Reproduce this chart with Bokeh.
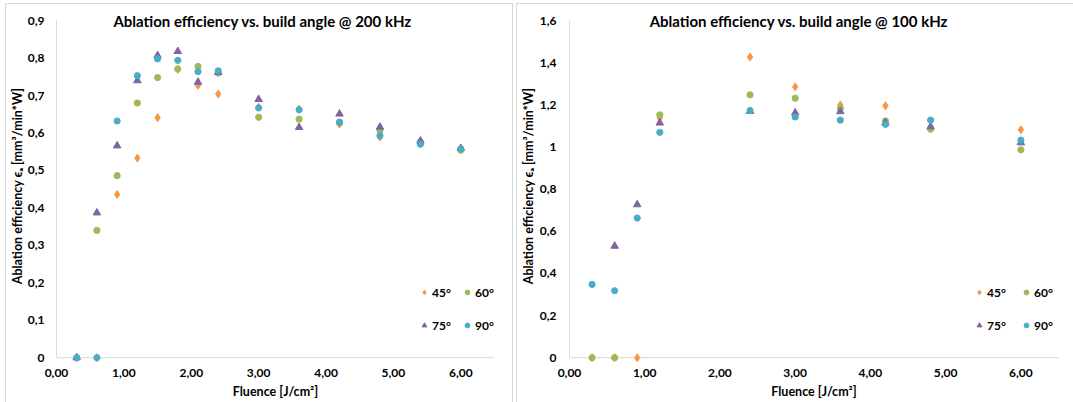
from bokeh.plotting import figure
from bokeh.layouts import row
from bokeh.models import (Label, Legend, LegendItem, FixedTicker, CustomJSTickFormatter,
                          Span, Range1d)
from bokeh.embed import file_html
from bokeh.resources import INLINE

nan = float("nan")

# ---------------- data ----------------
series_names = ["45°", "60°", "75°", "90°"]

titles = ["Ablation efficiency vs. build angle @ 200 kHz",
          "Ablation efficiency vs. build angle @ 100 kHz"]
x_label = "Fluence [J/cm²]"
y_label = "Ablation efficiency ϵₐ [mm³/min*W]"

x_ticks = [0, 1, 2, 3, 4, 5, 6]
y_ticks_200 = [0, 0.1, 0.2, 0.3, 0.4, 0.5, 0.6, 0.7, 0.8, 0.9]
y_ticks_100 = [0, 0.2, 0.4, 0.6, 0.8, 1.0, 1.2, 1.4, 1.6]

fluence_200 = [0.3, 0.6, 0.9, 1.2, 1.5, 1.8, 2.1, 2.4, 3.0, 3.6, 4.2, 4.8, 5.4, 6.0]
eff_200_45 = [0, 0, 0.436, 0.533, 0.641, 0.770, 0.727, 0.704, 0.669, 0.664, 0.624, 0.589, 0.578, 0.556]
eff_200_60 = [0, 0.340, 0.486, 0.680, 0.748, 0.771, 0.778, 0.760, 0.642, 0.637, 0.627, 0.607, 0.576, 0.554]
eff_200_75 = [0, 0.387, 0.566, 0.740, 0.807, 0.818, 0.736, 0.762, 0.690, 0.615, 0.651, 0.616, 0.579, 0.559]
eff_200_90 = [0, 0, 0.632, 0.753, 0.798, 0.794, 0.764, 0.766, 0.667, 0.662, 0.629, 0.593, 0.570, 0.558]

fluence_100 = [0.3, 0.6, 0.9, 1.2, 2.4, 3.0, 3.6, 4.2, 4.8, 6.0]
eff_100_45 = [0, 0, 0, 1.138, 1.428, 1.286, 1.200, 1.196, 1.090, 1.082]
eff_100_60 = [0, 0, nan, 1.153, 1.248, 1.232, 1.184, 1.124, 1.085, 0.987]
eff_100_75 = [nan, 0.530, 0.727, 1.115, 1.170, 1.163, 1.169, 1.116, 1.097, 1.021]
eff_100_90 = [0.348, 0.318, 0.663, 1.070, 1.173, 1.143, 1.128, 1.108, 1.128, 1.033]

# ---------------- style ----------------
FONT = "Lato"
TEXT = "#000000"
GREY = "#D9D9D9"
colors = ["#F79646", "#9BBB59", "#8064A2", "#4BACC6"]
markers = ["diamond", "circle", "triangle", "circle"]
sizes = [8, 6.2, 7.5, 6.2]

Y_FMT = "const v = Math.round(tick * 10) / 10; return v.toString().replace('.', ',');"
X_FMT = "return tick.toFixed(2).replace('.', ',');"


def make_panel(title, xs, ys_list, y_top, y_rng, y_ticks, width, b_left, b_right,
               y_std, y_label_std, title_x, legend_x, legend_spacing, margin):
    p = figure(width=width, height=398, x_range=Range1d(0, 6.5), y_range=Range1d(*y_rng),
               output_backend="svg", toolbar_location=None, title=None,
               min_border_left=b_left, min_border_right=b_right,
               min_border_top=4, min_border_bottom=39)
    p.margin = margin
    p.styles = {"box-shadow": "0 0 0 1px " + GREY}
    p.outline_line_color = None
    p.grid.visible = False
    p.background_fill_color = "white"
    p.border_fill_color = "white"

    xa = p.xaxis[0]
    xa.ticker = FixedTicker(ticks=x_ticks)
    xa.formatter = CustomJSTickFormatter(code=X_FMT)
    xa.axis_line_color = None
    xa.major_tick_line_color = None
    xa.minor_tick_line_color = None
    xa.major_tick_out = 0
    xa.major_label_standoff = 5
    xa.major_label_text_font = FONT
    xa.major_label_text_font_size = "12px"
    xa.major_label_text_font_style = "bold"
    xa.major_label_text_color = TEXT
    xa.axis_label = x_label
    xa.axis_label_standoff = 4
    xa.axis_label_text_font = FONT
    xa.axis_label_text_font_size = "12.5px"
    xa.axis_label_text_font_style = "bold"
    xa.axis_label_text_color = TEXT

    ya = p.yaxis[0]
    ya.ticker = FixedTicker(ticks=y_ticks)
    ya.formatter = CustomJSTickFormatter(code=Y_FMT)
    ya.bounds = (0, y_top)
    ya.axis_line_color = GREY
    ya.major_tick_line_color = None
    ya.minor_tick_line_color = None
    ya.major_tick_out = 0
    ya.major_label_standoff = y_std
    ya.major_label_text_font = FONT
    ya.major_label_text_font_size = "12px"
    ya.major_label_text_font_style = "bold"
    ya.major_label_text_color = TEXT
    ya.axis_label = y_label
    ya.axis_label_standoff = y_label_std
    ya.axis_label_text_font = FONT
    ya.axis_label_text_font_size = "12.5px"
    ya.axis_label_text_font_style = "bold"
    ya.axis_label_text_color = TEXT

    p.add_layout(Span(location=0, dimension="width", line_color=GREY, line_width=1,
                      level="underlay"))

    rends = []
    for ys, c, m, s in zip(ys_list, colors, markers, sizes):
        r = p.scatter(x=xs, y=ys, marker=m, size=s, fill_color=c, line_color=c)
        rends.append(r)

    p.add_layout(Label(x=title_x, y=y_top, text=title, text_align="center",
                       text_baseline="middle", text_font=FONT, text_font_size="15px",
                       text_font_style="bold", text_color=TEXT))

    for (i0, i1), ly in [((0, 1), 63), ((2, 3), 30)]:
        leg = Legend(items=[LegendItem(label=series_names[i0], renderers=[rends[i0]]),
                            LegendItem(label=series_names[i1], renderers=[rends[i1]])],
                     orientation="horizontal", location=(legend_x, ly),
                     glyph_width=12, glyph_height=16, label_standoff=2,
                     spacing=legend_spacing, padding=0, margin=0,
                     border_line_color=None, background_fill_alpha=0,
                     label_text_font=FONT, label_text_font_size="12px",
                     label_text_font_style="bold", label_text_color=TEXT)
        p.add_layout(leg)
    return p


p1 = make_panel(titles[0], fluence_200, [eff_200_45, eff_200_60, eff_200_75, eff_200_90],
                0.9, (-0.0155, 0.9325), y_ticks_200, 506, 46, 18, 12, 0, 3.06, 362, 9,
                (4, 0, 0, 6))
p2 = make_panel(titles[1], fluence_100, [eff_100_45, eff_100_60, eff_100_75, eff_100_90],
                1.6, (-0.0275, 1.658), y_ticks_100, 556, 50, 15, 13, 1, 3.05, 404, 13,
                (4, 0, 0, 5))

layout = row(p1, p2)
open("out.html", "w").write(file_html(layout, INLINE))
